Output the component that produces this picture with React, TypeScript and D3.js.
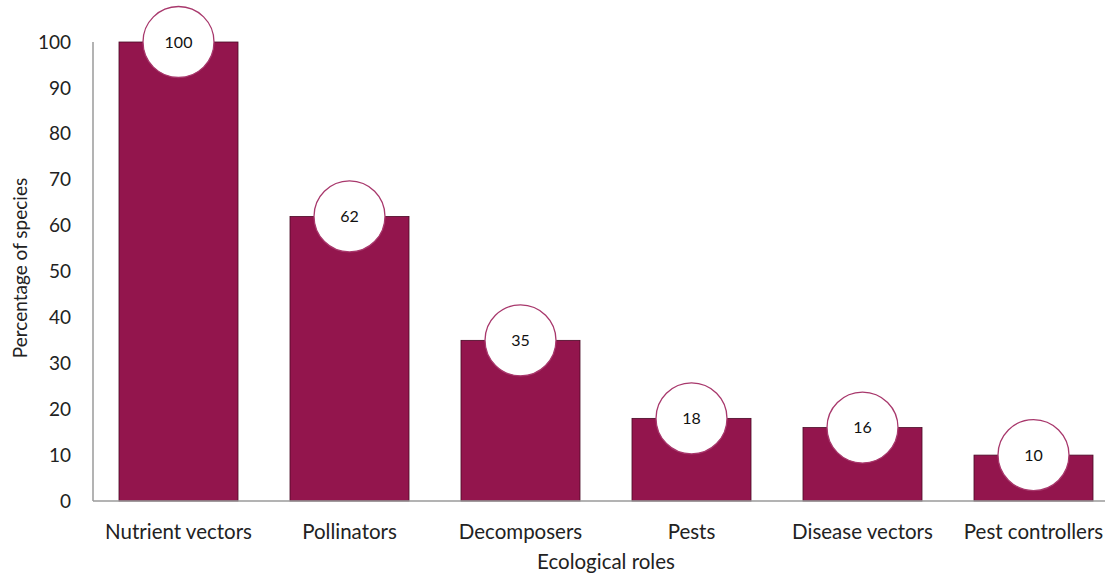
import React, { useEffect, useRef } from 'react'
import * as d3 from 'd3'

const categories = ['Nutrient vectors', 'Pollinators', 'Decomposers', 'Pests', 'Disease vectors', 'Pest controllers']
const values = [100, 62, 35, 18, 16, 10]
const yTicks = [0, 10, 20, 30, 40, 50, 60, 70, 80, 90, 100]

export default function App() {
    const svgRef = useRef<SVGSVGElement>(null)

    const width = 1110
    const height = 575

    useEffect(() => {
        const svg = d3.select(svgRef.current)
        svg.selectAll('*').remove()

        const font = 'Lato, "Open Sans", sans-serif'
        const barColor = '#93154d'

        const x = d3.scaleBand().domain(categories).range([93, 1119]).paddingInner(0.304).paddingOuter(0.152)
        const y = d3.scaleLinear().domain([0, 100]).range([501, 42])

        // bars
        svg.append('g')
            .selectAll('rect')
            .data(values)
            .enter()
            .append('rect')
            .attr('x', (d, i) => x(categories[i]))
            .attr('y', d => y(d))
            .attr('width', x.bandwidth())
            .attr('height', d => y(0) - y(d))
            .attr('fill', barColor)
            .attr('stroke', '#4a0a26')
            .attr('stroke-width', 0.8)

        // axes lines
        svg.append('line')
            .attr('x1', 93).attr('x2', 93)
            .attr('y1', y(100)).attr('y2', y(0))
            .attr('stroke', '#9a9a9a').attr('stroke-width', 1.5)
        svg.append('line')
            .attr('x1', 93).attr('x2', 1105)
            .attr('y1', y(0)).attr('y2', y(0))
            .attr('stroke', '#9a9a9a').attr('stroke-width', 1.5)

        // y tick labels
        svg.append('g')
            .selectAll('text')
            .data(yTicks)
            .enter()
            .append('text')
            .attr('x', 71)
            .attr('y', d => y(d))
            .attr('dy', '0.35em')
            .attr('text-anchor', 'end')
            .attr('font-family', font)
            .attr('font-size', 19)
            .attr('fill', '#222')
            .text(d => d)

        // category labels
        svg.append('g')
            .selectAll('text')
            .data(categories)
            .enter()
            .append('text')
            .attr('x', d => x(d) + x.bandwidth() / 2)
            .attr('y', 539)
            .attr('text-anchor', 'middle')
            .attr('font-family', font)
            .attr('font-size', 20.5)
            .attr('fill', '#222')
            .text(d => d)

        // value circles
        const labels = svg.append('g')
            .selectAll('g')
            .data(values)
            .enter()
            .append('g')
            .attr('transform', (d, i) => `translate(${x(categories[i]) + x.bandwidth() / 2},${y(d)})`)
        labels.append('circle')
            .attr('r', 35.5)
            .attr('fill', '#fff')
            .attr('stroke', '#a8386c')
            .attr('stroke-width', 1.3)
        labels.append('text')
            .attr('dy', '0.35em')
            .attr('text-anchor', 'middle')
            .attr('font-family', font)
            .attr('font-size', 16)
            .attr('fill', '#111')
            .text(d => d)

        // axis titles
        svg.append('text')
            .attr('x', 606)
            .attr('y', 569)
            .attr('text-anchor', 'middle')
            .attr('font-family', font)
            .attr('font-size', 20.5)
            .attr('fill', '#222')
            .text('Ecological roles')
        svg.append('text')
            .attr('transform', 'translate(27,268) rotate(-90)')
            .attr('text-anchor', 'middle')
            .attr('font-family', font)
            .attr('font-size', 19)
            .attr('fill', '#222')
            .text('Percentage of species')
    }, [])

    return (
        <svg ref={svgRef} width={width} height={height} style={{ position: 'absolute', left: 0, top: 0 }} />
    )
}
